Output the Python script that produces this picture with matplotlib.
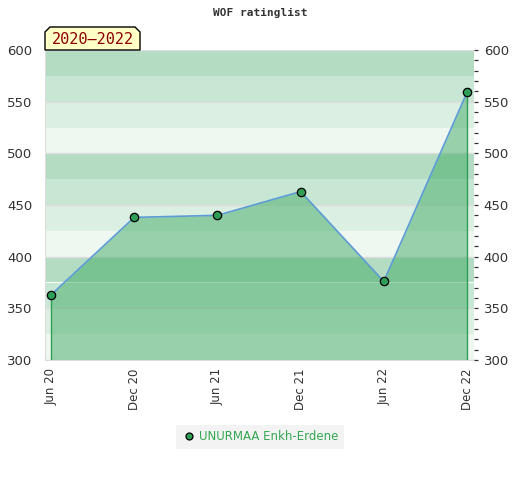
import matplotlib.pyplot as plt
from matplotlib.patches import Polygon
from matplotlib.ticker import MultipleLocator

# data
periods = ['Jun 20', 'Dec 20', 'Jun 21', 'Dec 21', 'Jun 22', 'Dec 22']
ratings = [363, 438, 440, 463, 376, 559]
player = 'UNURMAA Enkh-Erdene'
title = 'WOF ratinglist'
range_label = '2020\u20132022'

y_min, y_max = 300, 600
band_colors = {75: '#b3dcc3', 50: '#c8e6d4', 25: '#dcefe3', 0: '#eff7f1'}

fig = plt.figure(figsize=(5.2, 4.8), dpi=100)
ax = fig.add_axes([45 / 520, 1 - 360 / 480, 429 / 520, 310 / 480])

x = list(range(len(periods)))

# striped background
for lo in range(y_min, y_max, 25):
    ax.axhspan(lo, lo + 25, color=band_colors[lo % 100], lw=0, zorder=0)
for v in range(y_min, y_max + 1, 50):
    ax.axhline(v, color='#dddddd', lw=1, zorder=0.5)

ax.fill_between(x, ratings, y_min, color='#41ab65', alpha=0.5, lw=0, zorder=1)
ax.vlines([x[0], x[-1]], y_min, [ratings[0], ratings[-1]], color='#2e9e57', lw=1, zorder=2)
ax.plot(x, ratings, color='#5b9bd5', lw=1.2, zorder=3)
ax.plot(x, ratings, 'o', color='#2e9e57', mec='black', mew=0.9, ms=6, zorder=4,
        label=player)

ax.set_xlim(-0.072, 5.084)
ax.set_ylim(y_min, y_max)
ax.set_xticks(x)
ax.set_xticklabels(periods, rotation=90, fontsize=8.5, color='#333333')
ax.set_yticks(range(y_min, y_max + 1, 50))
ax.tick_params(axis='y', length=0, labelsize=9.5, labelcolor='#333333', pad=9)
ax.tick_params(axis='x', length=0, pad=6)
for side in ['left', 'bottom', 'top']:
    ax.spines[side].set_color('#dddddd')
ax.spines['right'].set_visible(False)

ax2 = ax.twinx()
ax2.set_ylim(y_min, y_max)
ax2.set_yticks(range(y_min, y_max + 1, 50))
ax2.yaxis.set_minor_locator(MultipleLocator(10))
ax2.tick_params(axis='y', which='both', length=3, width=0.9, color='#333333',
                labelsize=9.5, labelcolor='#333333', pad=4)
for side in ['left', 'bottom', 'top', 'right']:
    ax2.spines[side].set_visible(False)

fig.text(0.5, 1 - 13 / 480, title, ha='center', va='center',
         family='DejaVu Sans Mono', fontsize=8, fontweight='bold', color='#333333')

# range label box with cut corners
x0, x1 = 45 / 520, 140 / 520
y0, y1 = 1 - 50 / 480, 1 - 27 / 480
cx, cy = 5 / 520, 5 / 480
box = Polygon([(x0, y0), (x0, y1 - cy), (x0 + cx, y1), (x1 - cx, y1),
               (x1, y1 - cy), (x1, y0)], closed=True, transform=fig.transFigure,
              facecolor='#ffffc6', edgecolor='black', lw=1, zorder=5)
fig.patches.append(box)
fig.text((x0 + x1) / 2, (y0 + y1) / 2 - 0.002, range_label, ha='center', va='center',
         family='DejaVu Sans Mono', fontsize=11, color='#8b0000', zorder=6)

leg = fig.legend(loc='center', bbox_to_anchor=(260 / 520, 1 - 437 / 480),
                 frameon=True, fancybox=False, facecolor='#f0f0f0', edgecolor='none',
                 fontsize=8.5, handletextpad=0.3, handlelength=1.2, borderpad=0.45)
for t in leg.get_texts():
    t.set_color('#33a852')
leg.get_lines()[0].set_markersize(5)

fig.savefig('out.png', dpi=100)
